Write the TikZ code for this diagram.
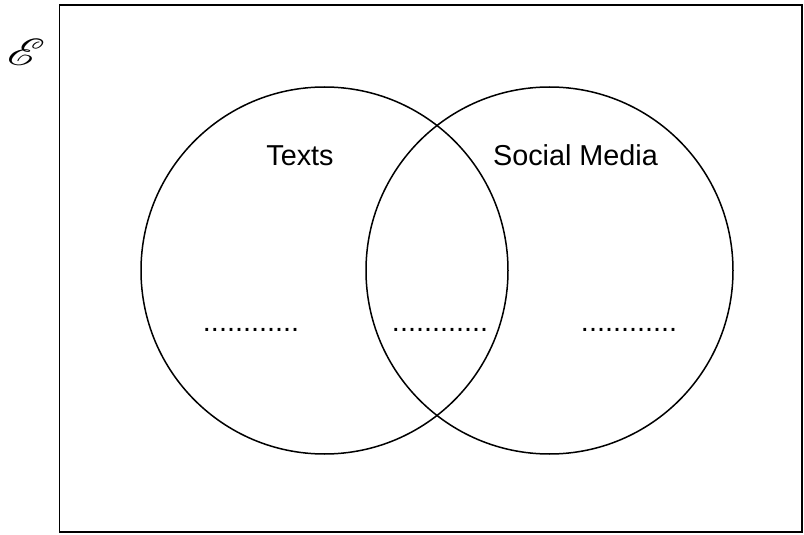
\documentclass[tikz,border=0pt]{standalone}
\usepackage{fontspec}
\setmainfont{Liberation Sans}
\usepackage{mathrsfs}
\begin{document}
\begin{tikzpicture}[x=1pt,y=-1pt,
  setline/.style={draw=black,line width=1.5pt},
  lbl/.style={font=\fontsize{28.8}{34}\selectfont,anchor=base,inner sep=0pt}]
\useasboundingbox (0,0) rectangle (804,535);
\draw[setline] (59.5,5) rectangle (802,532);
\coordinate (cl) at (324.5,270.5);
\coordinate (cr) at (549.5,270.5);
\draw[setline] (cl) circle (183.5);
\draw[setline] (cr) circle (183.5);
\node[inner sep=0pt,xscale=4.8,yscale=4,rotate=-6] (univ) at (26,52) {$\mathscr{E}$};
\node[lbl] (texts) at (300,165) {Texts};
\node[lbl] (social) at (575.5,165) {Social Media};
\node[lbl] (d1) at (251,331) {............};
\node[lbl] (d2) at (440,331) {............};
\node[lbl] (d3) at (629,331) {............};
\end{tikzpicture}
\end{document}
